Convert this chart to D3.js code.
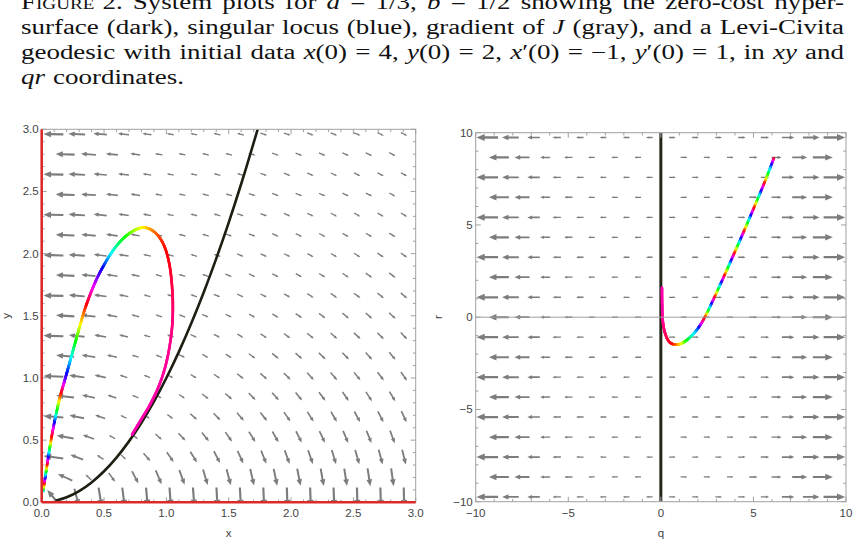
<!DOCTYPE html>
<html><head><meta charset="utf-8">
<script src="https://cdn.jsdelivr.net/npm/d3@7"></script>
<style>
html,body{margin:0;padding:0;background:#fff;}
svg{display:block;}
</style></head>
<body>
<svg id="chart" width="859" height="546"></svg>
<script>
// ================= DATA =================
// caption lines (segments: [text, italic?, smallcaps?])
const captionLine1 = [["Figure 2.",false,true],[" System plots for ",false],["a",true],[" = 1/3, ",false],["b",true],[" = 1/2 showing the zero-cost hyper-",false]];
const captionLine2 = [["surface (dark), singular locus (blue), gradient of ",false],["J",true],[" (gray), and a Levi-Civita",false]];
const captionLine3 = [["geodesic with initial data ",false],["x",true],["(0) = 4, ",false],["y",true],["(0) = 2, ",false],["x",true],["\u2032(0) = \u22121, ",false],["y",true],["\u2032(0) = 1, in ",false],["xy",true],[" and",false]];
const captionLine4 = [["qr",true],[" coordinates.",false]];

// left panel (xy)
const leftXTicks = [0, 0.5, 1, 1.5, 2, 2.5, 3];
const leftYTicks = [0, 0.5, 1, 1.5, 2, 2.5, 3];
const leftXTitle = "x", leftYTitle = "y";
const leftRowY = [2.961,2.799,2.637,2.474,2.312,2.149,1.987,1.825,1.662,1.500,1.338,1.176,1.013,0.851,0.688,0.526,0.363,0.201,0.039];
const leftColEven = [0.094,0.281,0.469,0.656,0.844,1.031,1.219,1.406,1.594,1.781,1.969,2.156,2.344,2.531,2.719,2.906];
const leftColOdd  = [0.188,0.375,0.563,0.750,0.938,1.125,1.313,1.500,1.688,1.875,2.063,2.250,2.438,2.625,2.813];
const leftAngle = [
[179,177,175.5,173.7,171.9,170,168,167,165,-17,-18,-20,-22,-23,-25,-26],
[178,176,174,172,170.5,168.6,167,165,-17,-18.5,-20,-22,-23.5,-25,-27],
[179,177,175,173,171,169,167,165,163,-19,-20.5,-22,-24,-26,-27,-29],
[178,176,173.5,171,169,167,165,163,-19,-21,-23,-24,-26,-28,-30],
[179,176.5,174,172,169.6,167.4,165,163,-19,-21,-23,-25,-27,-29,-30.5,-32],
[177.5,175,172.5,170,167.7,165.3,163,-19,-21,-23.5,-26,-28,-29.5,-31,-33],
[178.6,176,173.3,170.6,168,165.5,163,160.5,-22,-24,-26,-28.5,-30.5,-32.5,-34,-36],
[177,174,171,168.4,165.6,163,160,-22,-25,-27,-29.5,-32,-34,-36,-38],
[178.4,175,172,168.8,165.7,162.8,160,-23,-25.6,-28,-30.6,-33,-35,-37,-39,-41],
[176.4,172.9,169.4,166,162.6,159.4,-23.6,-26.6,-29.4,-32,-34.5,-37,-39,-41,-43],
[178,174,170,166.2,162.5,158.9,-24.5,-27.7,-30.8,-33.7,-36.4,-39,-41,-43,-45.5,-47],
[175.4,171,166.5,162.3,158.2,-25.6,-29,-32.5,-35.7,-38.6,-41,-44,-46,-48,-50],
[177.4,172,167,162,157.4,-27,-31,-35,-38,-41,-44,-47,-49,-51,-53,-55],
[173.7,167.6,161.7,156.2,-29,-33.5,-38,-41,-45,-48,-50.5,-53,-55,-57,-59],
[176,168.4,161.2,154.5,-31.5,-37,-41.5,-45.6,-49,-52,-55,-57.5,-60,-61.5,-63,-65],
[169.9,160.4,151.8,-35.5,-42,-47,-51,-55,-58,-61,-63,-65,-67,-68,-69.5],
[172.6,158.8,147.2,-42,-49,-55,-59,-63,-65.5,-68,-70,-71,-73,-74,-75,-76],
[155,137,-54.5,-62,-67,-70,-73,-75,-77,-78,-79,-80,-81,-81,-82],
[129.5,-75,-81,-83,-85,-86,-86,-87,-87,-87.5,-88,-88,-88,-88.3,-88.4,-88.5]
];
const leftMag = [
[124,25.8,11.1,5.9,3.4,2.0,1.16,0.59,0.2,0.16,0.58,0.88,1.14,1.32,1.48,1.6],
[46.7,16,7.8,4.3,2.5,1.43,0.76,0.3,0.04,0.52,0.86,1.14,1.34,1.52,1.66],
[122,25,10.6,5.6,3.1,1.8,0.97,0.42,0.05,0.44,0.84,1.14,1.38,1.56,1.7,1.82],
[45.4,15.3,7.4,4.0,2.2,1.22,0.57,0.13,0.36,0.8,1.14,1.4,1.6,1.76,1.9],
[119,24,10.1,5.2,2.8,1.54,0.75,0.23,0.24,0.76,1.14,1.42,1.66,1.84,1.98,2.1],
[43.9,14.6,6.9,3.6,1.95,0.97,0.35,0.12,0.72,1.14,1.46,1.72,1.92,2.08,2.22],
[116,23,9.5,4.7,2.5,1.25,0.5,0.01,0.66,1.14,1.52,1.8,2.02,2.2,2.34,2.46],
[42.2,13.7,6.3,3.2,1.61,0.68,0.09,0.6,1.16,1.58,1.88,2.14,2.34,2.5,2.64],
[112,21.7,8.7,4.2,2.07,0.91,0.19,0.54,1.18,1.64,2.0,2.28,2.5,2.68,2.84,2.98],
[40.1,12.7,5.6,2.7,1.19,0.32,0.46,1.2,1.74,2.14,2.46,2.7,2.92,3.08,3.24],
[107,20.2,7.8,3.6,1.57,0.48,0.38,1.26,1.88,2.32,2.68,2.96,3.2,3.4,3.58,3.74],
[37.5,11.5,4.8,2.06,0.67,0.3,1.34,2.06,2.58,3.0,3.32,3.6,3.84,4.04,4.22],
[101,18.3,6.7,2.74,0.91,0.22,1.46,2.32,2.94,3.42,3.8,4.12,4.42,4.66,4.9,5.1],
[34.2,9.8,3.7,1.2,0.16,1.7,2.72,3.46,4.04,4.5,4.9,5.26,5.58,5.86,6.12],
[93,15.7,5.1,1.58,0.18,2.12,3.38,4.3,5.02,5.62,6.14,6.58,7.0,7.38,7.74,8.06],
[29.3,7.5,2.04,0.44,2.94,4.58,5.78,6.76,7.58,8.28,8.94,9.52,10,10.5,11],
[80,11.6,2.55,1.4,4.88,7.24,9.02,10.5,11.8,12.9,13.9,14.8,15.7,16.4,17.2,17.9],
[20.5,2.6,5.56,11.6,16,19.4,22.4,24.8,27.2,29.2,31,32.6,34.2,35.6,37],
[49.6,38.6,91,126,152,172,190,204,218,228,238,248,256,264,272,280]
];
const zeroCostX = [0.11,0.2,0.3,0.4,0.5,0.6,0.7,0.8,0.9,1.0,1.1,1.2,1.3,1.4,1.5,1.6,1.7,1.75];
const zeroCostY = [0.012,0.04,0.09,0.16,0.25,0.36,0.49,0.64,0.81,1.0,1.21,1.44,1.69,1.96,2.25,2.56,2.89,3.06];
const singularX = [0], singularY = [0];
const geoX = [0.012,0.025,0.04,0.057,0.075,0.097,0.12,0.145,0.17,0.19,0.215,0.24,0.265,0.29,0.315,0.345,0.375,0.41,0.45,0.495,0.548,0.61,0.68,0.748,0.815,0.882,0.945,0.995,1.03,1.048,1.052,1.045,1.02,0.98,0.925,0.86,0.785,0.725];
const geoY = [0.09,0.18,0.28,0.39,0.5,0.62,0.73,0.84,0.93,1.0,1.09,1.18,1.27,1.36,1.45,1.55,1.635,1.725,1.815,1.9,1.99,2.075,2.145,2.19,2.21,2.19,2.13,2.03,1.88,1.70,1.55,1.40,1.22,1.05,0.90,0.77,0.645,0.545];
const geoHue = [2000,1740,1500,1290,1115,1000,865,758,680,625,578,535,495,455,415,378,345,305,268,238,190,150,115,82,58,35,15,2,-8,-18,-25,-30,-34,-37,-39,-40,-41,-42];

// right panel (qr)
const rightXTicks = [-10,-5,0,5,10];
const rightYTicks = [-10,-5,0,5,10];
const rightXTitle = "q", rightYTitle = "r";
const rightRowR = [9.74,8.66,7.58,6.50,5.41,4.33,3.25,2.17,1.08,0,-1.08,-2.17,-3.25,-4.33,-5.41,-6.50,-7.58,-8.66,-9.74];
const rightColEven = [-9.375,-8.125,-6.875,-5.625,-4.375,-3.125,-1.875,-0.625,0.625,1.875,3.125,4.375,5.625,6.875,8.125,9.375];
const rightColOdd  = [-8.75,-7.5,-6.25,-5,-3.75,-2.5,-1.25,0,1.25,2.5,3.75,5,6.25,7.5,8.75];
const rightVecEven = [-1.17,-0.9,-0.675,-0.45,-0.40,-0.36,-0.36,-0.36,0.36,0.36,0.36,0.40,0.45,0.675,0.9,1.17];
const rightVecOdd  = [-1.08,-0.81,-0.54,-0.45,-0.36,-0.36,-0.36,0,0.36,0.36,0.36,0.45,0.54,0.81,1.08];
const zeroCostQ = [0,0], zeroCostR = [-10,10];
const geoQ = [6.10,5.63,5.09,4.55,4.01,3.47,2.93,2.39,1.94,1.40,0.95,0.50,0.23,0.10,0.07,0.06];
const geoR = [8.61,7.38,6.08,4.81,3.57,2.35,1.16,0.03,-0.69,-1.24,-1.47,-1.38,-0.87,-0.15,0.7,1.6];
const geoRHue = [2890,2560,2210,1850,1480,1115,745,380,215,130,50,-5,-22,-35,-40,-41];

// ================= DRAWING =================
const svg = d3.select("#chart");
const GRAY = "#7c7c7c", FRAME = "#a0a0a0", LABEL = "#444";
const sans = "'Liberation Sans', Arial, Helvetica, sans-serif";

// ---- caption (justified word by word, glyphs widened to a Computer-Modern-like width) ----
const CAP_SIZE = 20.5, CAP_LEFT = 21, CAP_WIDTH = 823;
const cap = svg.append("g").attr("font-family","'Liberation Serif','Times New Roman',serif")
  .attr("font-size",CAP_SIZE).attr("fill","#111");
function buildLine(segs, y){
  const words = []; let cur = [];
  segs.forEach(([txt,it,sc])=>{
    txt.split(" ").forEach((p,k)=>{
      if(k>0){ if(cur.length) words.push(cur); cur = []; }
      if(p.length) cur.push([p,it,sc]);
    });
  });
  if(cur.length) words.push(cur);
  const els = words.map(w=>{
    const t = cap.append("text").attr("y",y);
    w.forEach(([p,it,sc])=>{
      const ts = t.append("tspan").text(p);
      if(it) ts.attr("font-style","italic");
      if(sc) ts.attr("font-variant","small-caps");
    });
    return t;
  });
  const widths = els.map(t=>t.node().getComputedTextLength());
  return {els, widths};
}
const capLines = [
  [captionLine1, 9, true],
  [captionLine2, 34, true],
  [captionLine3, 59, true],
  [captionLine4, 84, false]
].map(([segs,y,j])=>Object.assign(buildLine(segs,y),{justify:j}));
const SPACE = CAP_SIZE*0.3;
const natural = [1,2].map(k=>d3.sum(capLines[k].widths)+SPACE*(capLines[k].els.length-1));
const sx = CAP_WIDTH/d3.mean(natural);
cap.attr("transform",`translate(${CAP_LEFT},0) scale(${sx},1)`);
capLines.forEach(L=>{
  const n = L.els.length;
  const gap = L.justify ? (CAP_WIDTH/sx - d3.sum(L.widths))/(n-1) : SPACE;
  let x = 0;
  L.els.forEach((t,i)=>{ t.attr("x",x); x += L.widths[i] + gap; });
});

// ---- panels ----
const PL = {x0:41.7, x1:415.7, y0:502.3, y1:129.3};
const PR = {x0:475.7, x1:846, y0:501.7, y1:132.7};
const xL = d3.scaleLinear().domain([0,3]).range([PL.x0,PL.x1]);
const yL = d3.scaleLinear().domain([0,3]).range([PL.y0,PL.y1]);
const xR = d3.scaleLinear().domain([-10,10]).range([PR.x0,PR.x1]);
const yR = d3.scaleLinear().domain([-10,10]).range([PR.y0,PR.y1]);
const arrowLen = d3.scaleLog().domain([2,60]).range([7,19.9]).clamp(true);

const defs = svg.append("defs");
defs.append("clipPath").attr("id","clipL").append("rect")
  .attr("x",PL.x0).attr("y",PL.y1).attr("width",PL.x1-PL.x0).attr("height",PL.y0-PL.y1);
defs.append("clipPath").attr("id","clipR").append("rect")
  .attr("x",PR.x0).attr("y",PR.y1).attr("width",PR.x1-PR.x0).attr("height",PR.y0-PR.y1);

function drawArrow(g, cx, cy, angDeg, len){
  if(len <= 0.01) return;
  const a = angDeg*Math.PI/180, dx = Math.cos(a), dy = -Math.sin(a);
  const hx = cx + dx*len/2, hy = cy + dy*len/2;
  const tx = cx - dx*len/2, ty = cy - dy*len/2;
  const hl = 0.38*len, hw = 0.16*len;
  const bx = hx - dx*hl, by = hy - dy*hl;
  g.append("line").attr("x1",tx).attr("y1",ty).attr("x2",bx+dx*0.6).attr("y2",by+dy*0.6)
    .attr("stroke",GRAY).attr("stroke-width",0.85+0.065*len);
  g.append("path").attr("d",`M${hx},${hy}L${bx-dy*hw},${by+dx*hw}L${bx+dy*hw},${by-dx*hw}Z`)
    .attr("fill",GRAY);
}

function drawFrame(g, P, xs, ys, xMaj, yMaj, xMin, yMin, fx, fy, xt, yt, ylabX){
  const fr = g.append("g").attr("stroke",FRAME).attr("stroke-width",1).attr("fill","none");
  fr.append("rect").attr("x",P.x0).attr("y",P.y1).attr("width",P.x1-P.x0).attr("height",P.y0-P.y1);
  const tk = (v,len,isX)=>{
    if(isX){
      const x = xs(v);
      fr.append("line").attr("x1",x).attr("x2",x).attr("y1",P.y0).attr("y2",P.y0-len);
      fr.append("line").attr("x1",x).attr("x2",x).attr("y1",P.y1).attr("y2",P.y1+len);
    } else {
      const y = ys(v);
      fr.append("line").attr("y1",y).attr("y2",y).attr("x1",P.x0).attr("x2",P.x0+len);
      fr.append("line").attr("y1",y).attr("y2",y).attr("x1",P.x1).attr("x2",P.x1-len);
    }
  };
  xMin.forEach(v=>tk(v,2.8,true)); yMin.forEach(v=>tk(v,2.8,false));
  xMaj.forEach(v=>tk(v,5,true)); yMaj.forEach(v=>tk(v,5,false));
  const lab = g.append("g").attr("font-family",sans).attr("font-size",11.5).attr("fill",LABEL);
  xMaj.forEach(v=>lab.append("text").attr("x",xs(v)).attr("y",P.y0+15).attr("text-anchor","middle").text(fx(v)));
  yMaj.forEach(v=>lab.append("text").attr("x",P.x0-3).attr("y",ys(v)+4).attr("text-anchor","end").text(fy(v)));
  lab.append("text").attr("x",(P.x0+P.x1)/2).attr("y",537).attr("text-anchor","middle").text(xt);
  lab.append("text").attr("transform",`translate(${ylabX},${(P.y0+P.y1)/2}) rotate(-90)`)
    .attr("text-anchor","middle").text(yt);
}

function drawGeodesic(g, px, py, hue){
  const n = px.length;
  const P = i => [px[Math.max(0,Math.min(n-1,i))], py[Math.max(0,Math.min(n-1,i))]];
  const cr = (p0,p1,p2,p3,t)=>{
    const t2=t*t,t3=t2*t;
    return [0,1].map(k=>0.5*((2*p1[k])+(-p0[k]+p2[k])*t+(2*p0[k]-5*p1[k]+4*p2[k]-p3[k])*t2+(-p0[k]+3*p1[k]-3*p2[k]+p3[k])*t3));
  };
  for(let i=0;i<n-1;i++){
    const p0=P(i-1),p1=P(i),p2=P(i+1),p3=P(i+2);
    const steps = 16;
    let prev = p1;
    for(let s=1;s<=steps;s++){
      const t = s/steps;
      const cur = cr(p0,p1,p2,p3,t);
      const h = hue[i] + (hue[i+1]-hue[i])*(t-0.5/steps);
      const hh = ((h%360)+360)%360;
      g.append("line").attr("x1",prev[0]).attr("y1",prev[1]).attr("x2",cur[0]).attr("y2",cur[1])
        .attr("stroke",d3.hsl(hh,1,0.5).toString()).attr("stroke-width",2.7).attr("stroke-linecap","round");
      prev = cur;
    }
  }
}

const fmt1 = d3.format(".1f"), fmt0 = d3.format("d");
const halfStep = v=>Math.abs(v*2-Math.round(v*2))>1e-6;

// ===== LEFT PANEL =====
const gL = svg.append("g");
const gLc = gL.append("g").attr("clip-path","url(#clipL)");
leftRowY.forEach((yv,j)=>{
  const cols = (j%2===0) ? leftColEven : leftColOdd;
  cols.forEach((xv,i)=>drawArrow(gLc, xL(xv), yL(yv), leftAngle[j][i], arrowLen(leftMag[j][i])));
});
drawFrame(gL, PL, xL, yL, leftXTicks, leftYTicks,
  d3.range(0,3.001,0.1).filter(halfStep), d3.range(0,3.001,0.1).filter(halfStep),
  fmt1, fmt1, leftXTitle, leftYTitle, 10);
const lineL = d3.line().x((d,i)=>xL(zeroCostX[i])).y((d,i)=>yL(zeroCostY[i])).curve(d3.curveCatmullRom);
gLc.append("path").attr("d",lineL(zeroCostX)).attr("fill","none").attr("stroke","#1e1e12").attr("stroke-width",2.6);
drawGeodesic(gLc, geoX.map(v=>xL(v)), geoY.map(v=>yL(v)), geoHue);
singularX.forEach(v=>gL.append("line").attr("x1",xL(v)).attr("x2",xL(v)).attr("y1",yL(0)).attr("y2",yL(3))
  .attr("stroke","#dc2a2a").attr("stroke-width",2.6));
singularY.forEach(v=>gL.append("line").attr("y1",yL(v)).attr("y2",yL(v)).attr("x1",xL(0)).attr("x2",xL(3))
  .attr("stroke","#dc2a2a").attr("stroke-width",2.6));

// ===== RIGHT PANEL =====
const gR = svg.append("g");
const gRc = gR.append("g").attr("clip-path","url(#clipR)");
rightRowR.forEach((rv,j)=>{
  const cols = (j%2===0) ? rightColEven : rightColOdd;
  const vecs = (j%2===0) ? rightVecEven : rightVecOdd;
  cols.forEach((qv,i)=>{
    const v = vecs[i];
    const len = Math.abs(xR(qv+v/2)-xR(qv-v/2));
    drawArrow(gRc, xR(qv), yR(rv), v>=0?0:180, len);
  });
});
drawFrame(gR, PR, xR, yR, rightXTicks, rightYTicks,
  d3.range(-10,10.001,1).filter(v=>v%5!==0), d3.range(-10,10.001,1).filter(v=>v%5!==0),
  fmt0, fmt0, rightXTitle, rightYTitle, 442);
gR.append("line").attr("x1",xR(-10)).attr("x2",xR(10)).attr("y1",yR(0)).attr("y2",yR(0))
  .attr("stroke",FRAME).attr("stroke-width",1);
gRc.append("line").attr("x1",xR(zeroCostQ[0])).attr("x2",xR(zeroCostQ[1]))
  .attr("y1",yR(zeroCostR[0])).attr("y2",yR(zeroCostR[1]))
  .attr("stroke","#26261a").attr("stroke-width",3);
drawGeodesic(gRc, geoQ.map(v=>xR(v)), geoR.map(v=>yR(v)), geoRHue);
</script>
</body></html>
